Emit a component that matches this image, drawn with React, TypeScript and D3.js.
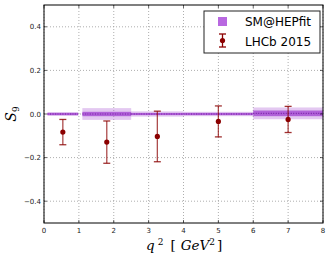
import * as d3 from 'd3';
import React from 'react';

// SM@HEPfit prediction bins
const binLo = [0.1, 1.1, 2.5, 4.0, 6.0];
const binHi = [0.98, 2.5, 4.0, 6.0, 8.0];
const smCentral = [0.0, 0.0, 0.0, 0.0, 0.003];
const smInner = [0.005, 0.01, 0.005, 0.005, 0.013];
const smOuter = [0.009, 0.027, 0.012, 0.01, 0.027];

// LHCb 2015 measurements
const lhcbX = [0.54, 1.8, 3.25, 5.0, 7.0];
const lhcbY = [-0.083, -0.129, -0.103, -0.034, -0.025];
const lhcbErr = [0.058, 0.097, 0.116, 0.071, 0.06];

const xTicks = [0, 1, 2, 3, 4, 5, 6, 7, 8];
const yTicks = [-0.4, -0.2, 0.0, 0.2, 0.4];

const W = 332;
const H = 260;
const m = { left: 44, right: 9, top: 5, bottom: 37 };

export default function App() {
  const x = d3.scaleLinear().domain([0, 8]).range([m.left, W - m.right]);
  const y = d3.scaleLinear().domain([-0.5, 0.5]).range([H - m.bottom, m.top]);
  const [x0, x1] = x.range();
  const [y0, y1] = y.range();
  const ecol = '#8b0000';

  return (
    <svg width={W} height={H} style={{ position: 'absolute', left: 0, top: 0, background: '#fff' }}>
      {/* grid */}
      {xTicks.map(t => (
        <line key={'gx' + t} x1={x(t)} x2={x(t)} y1={y1} y2={y0} stroke="#999" strokeWidth={0.8} strokeDasharray="1,2" />
      ))}
      {yTicks.map(t => (
        <line key={'gy' + t} x1={x0} x2={x1} y1={y(t)} y2={y(t)} stroke="#999" strokeWidth={0.8} strokeDasharray="1,2" />
      ))}

      {/* SM bands */}
      {binLo.map((lo, i) => (
        <g key={'sm' + i}>
          <rect x={x(lo)} width={x(binHi[i]) - x(lo)} y={y(smCentral[i] + smOuter[i])}
            height={y(smCentral[i] - smOuter[i]) - y(smCentral[i] + smOuter[i])} fill="#b060d8" opacity={0.35} />
          <rect x={x(lo)} width={x(binHi[i]) - x(lo)} y={y(smCentral[i] + smInner[i])}
            height={y(smCentral[i] - smInner[i]) - y(smCentral[i] + smInner[i])} fill="#a040d0" opacity={0.75} />
          <line x1={x(lo)} x2={x(binHi[i])} y1={y(smCentral[i])} y2={y(smCentral[i])}
            stroke="#7a20a8" strokeWidth={1.2} strokeDasharray="1,1.5" />
        </g>
      ))}

      {/* LHCb points */}
      {lhcbX.map((v, i) => {
        const cx = x(v);
        const top = y(lhcbY[i] + lhcbErr[i]);
        const bot = y(lhcbY[i] - lhcbErr[i]);
        return (
          <g key={'lh' + i}>
            <line x1={cx} x2={cx} y1={top} y2={bot} stroke={ecol} strokeWidth={1.3} opacity={0.7} />
            <line x1={cx - 3.5} x2={cx + 3.5} y1={top} y2={top} stroke={ecol} strokeWidth={1.3} opacity={0.8} />
            <line x1={cx - 3.5} x2={cx + 3.5} y1={bot} y2={bot} stroke={ecol} strokeWidth={1.3} opacity={0.8} />
            <circle cx={cx} cy={y(lhcbY[i])} r={2.6} fill={ecol} />
          </g>
        );
      })}

      {/* axes frame */}
      <rect x={x0} y={y1} width={x1 - x0} height={y0 - y1} fill="none" stroke="#000" strokeWidth={1} />
      {xTicks.map(t => (
        <g key={'tx' + t}>
          <line x1={x(t)} x2={x(t)} y1={y0} y2={y0 - 3} stroke="#000" strokeWidth={0.6} />
          <line x1={x(t)} x2={x(t)} y1={y1} y2={y1 + 3} stroke="#000" strokeWidth={0.6} />
          <text x={x(t)} y={y0 + 10} textAnchor="middle" fontFamily="DejaVu Sans" fontSize={7} fill="#222">{t}</text>
        </g>
      ))}
      {yTicks.map(t => (
        <g key={'ty' + t}>
          <line x1={x0} x2={x0 + 3} y1={y(t)} y2={y(t)} stroke="#000" strokeWidth={0.6} />
          <line x1={x1} x2={x1 - 3} y1={y(t)} y2={y(t)} stroke="#000" strokeWidth={0.6} />
          <text x={x0 - 3} y={y(t) + 2.5} textAnchor="end" fontFamily="DejaVu Sans" fontSize={7} fill="#222">
            {t === 0 ? '0.0' : d3.format('.1f')(t).replace('-', '\u2212')}
          </text>
        </g>
      ))}

      {/* axis labels */}
      <text x={146} y={250} fontFamily="DejaVu Serif" fontStyle="italic" fontSize={13.5}>
        q<tspan dx={3} dy={-5} fontSize={9} fontStyle="normal">2</tspan>
        <tspan dx={7} dy={5} fontStyle="normal">[</tspan>
        <tspan dx={5}>GeV</tspan>
        <tspan dy={-5} fontSize={9} fontStyle="normal">2</tspan>
        <tspan dx={2} dy={5} fontStyle="normal">]</tspan>
      </text>
      <text transform={`translate(16,${y(0)}) rotate(-90)`} textAnchor="middle" fontFamily="DejaVu Serif" fontStyle="italic" fontSize={14}>
        S<tspan dy={3} fontSize={9} fontStyle="normal">9</tspan>
      </text>

      {/* legend */}
      <rect x={204} y={11} width={116} height={42} fill="#fff" stroke="#222" strokeWidth={1} />
      <rect x={218} y={17} width={9} height={9} fill="#b868e0" />
      <text x={245} y={25.5} fontFamily="DejaVu Sans" fontSize={12}>SM@HEPfit</text>
      <line x1={222.5} x2={222.5} y1={34} y2={47} stroke={ecol} strokeWidth={1.3} />
      <line x1={219} x2={226} y1={34} y2={34} stroke={ecol} strokeWidth={1.3} />
      <line x1={219} x2={226} y1={47} y2={47} stroke={ecol} strokeWidth={1.3} />
      <circle cx={222.5} cy={40.5} r={2.6} fill={ecol} />
      <text x={245} y={45.5} fontFamily="DejaVu Sans" fontSize={12}>LHCb 2015</text>
    </svg>
  );
}
